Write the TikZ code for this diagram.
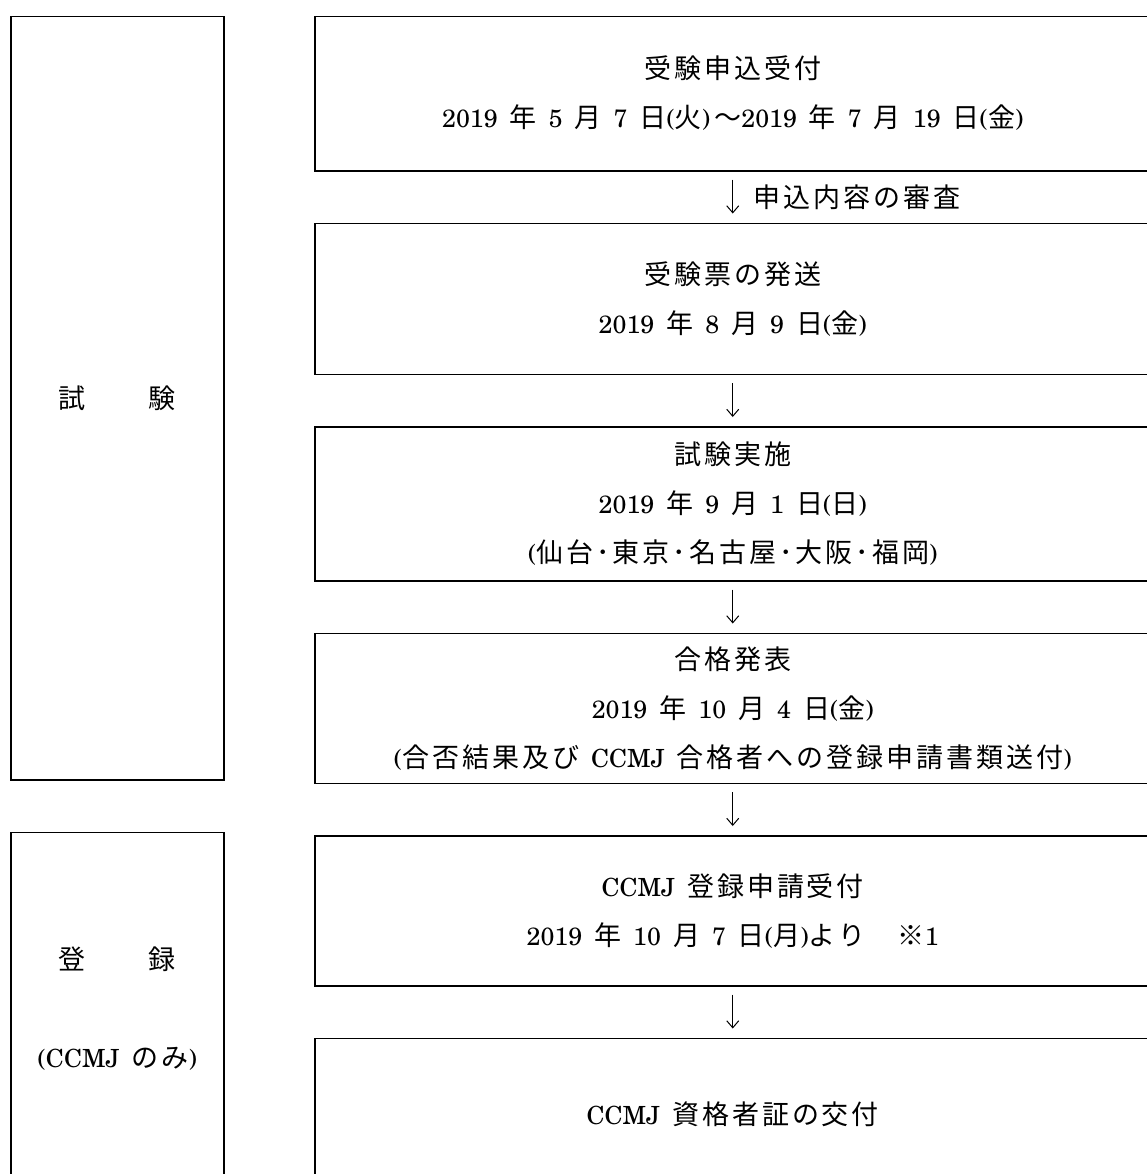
\documentclass[tikz,border=0pt]{standalone}
\usepackage{fontspec}
\setmainfont{TeX Gyre Schola}
\usetikzlibrary{positioning,arrows.meta}
\newfontfamily\jp[Scale=1.08, LetterSpace=11]{Noto Sans CJK JP}
\newcommand\J[1]{{\jp #1}}
\newcommand\boxfont{\fontsize{12.5}{24.5}\selectfont\spaceskip=6pt\relax}

\begin{document}
\begin{tikzpicture}[node distance=25.5pt, font=\boxfont,
    flowbox/.style={draw, line width=0.75pt, minimum width=418pt, minimum height=#1, align=center},
    phase/.style={draw, line width=0.75pt, minimum width=106.5pt, minimum height=#1, align=center},
    flow/.style={-{Straight Barb[length=3.5pt,width=6pt]}, line width=0.5pt, shorten <=4pt, shorten >=4.5pt}]
	\clip (0,0) rectangle (573.5pt,-587pt);

	\node[phase=381.65pt, anchor=north west] (exam) at (5pt,-7.85pt) {\J{試　　験}};
	\node[phase=176pt, below=of exam] (reg) {\J{登　　録}\\[24.5pt] (CCMJ \J{のみ})};

	\node[flowbox=77.15pt, anchor=north west] (apply) at (157pt,-7.85pt)
		{\J{受験申込受付}\\ 2019 \J{年} 5 \J{月} 7 \J{日}(\J{火})\,\J{～}2019 \J{年} 7 \J{月} 19 \J{日}(\J{金})};
	\node[flowbox=75.5pt, below=of apply] (ticket)
		{\J{受験票の発送}\\ 2019 \J{年} 8 \J{月} 9 \J{日}(\J{金})};
	\node[flowbox=77pt, below=of ticket] (test)
		{\J{試験実施}\\ 2019 \J{年} 9 \J{月} 1 \J{日}(\J{日})\\ (\J{仙台･東京･名古屋･大阪･福岡})};
	\node[flowbox=75pt, below=of test] (result)
		{\J{合格発表}\\ 2019 \J{年} 10 \J{月} 4 \J{日}(\J{金})\\ (\J{合否結果及び} CCMJ \J{合格者への登録申請書類送付})};
	\node[flowbox=75pt, below=of result] (entry)
		{CCMJ \J{登録申請受付}\\ 2019 \J{年} 10 \J{月} 7 \J{日}(\J{月})\J{より　※}1};
	\node[flowbox=76pt, below=of entry] (card) {CCMJ \J{資格者証の交付}};

	\draw[flow] (apply) -- node[right=7pt] {\J{申込内容の審査}} (ticket);
	\draw[flow] (ticket) -- (test);
	\draw[flow] (test) -- (result);
	\draw[flow] (result) -- (entry);
	\draw[flow] (entry) -- (card);
\end{tikzpicture}
\end{document}
